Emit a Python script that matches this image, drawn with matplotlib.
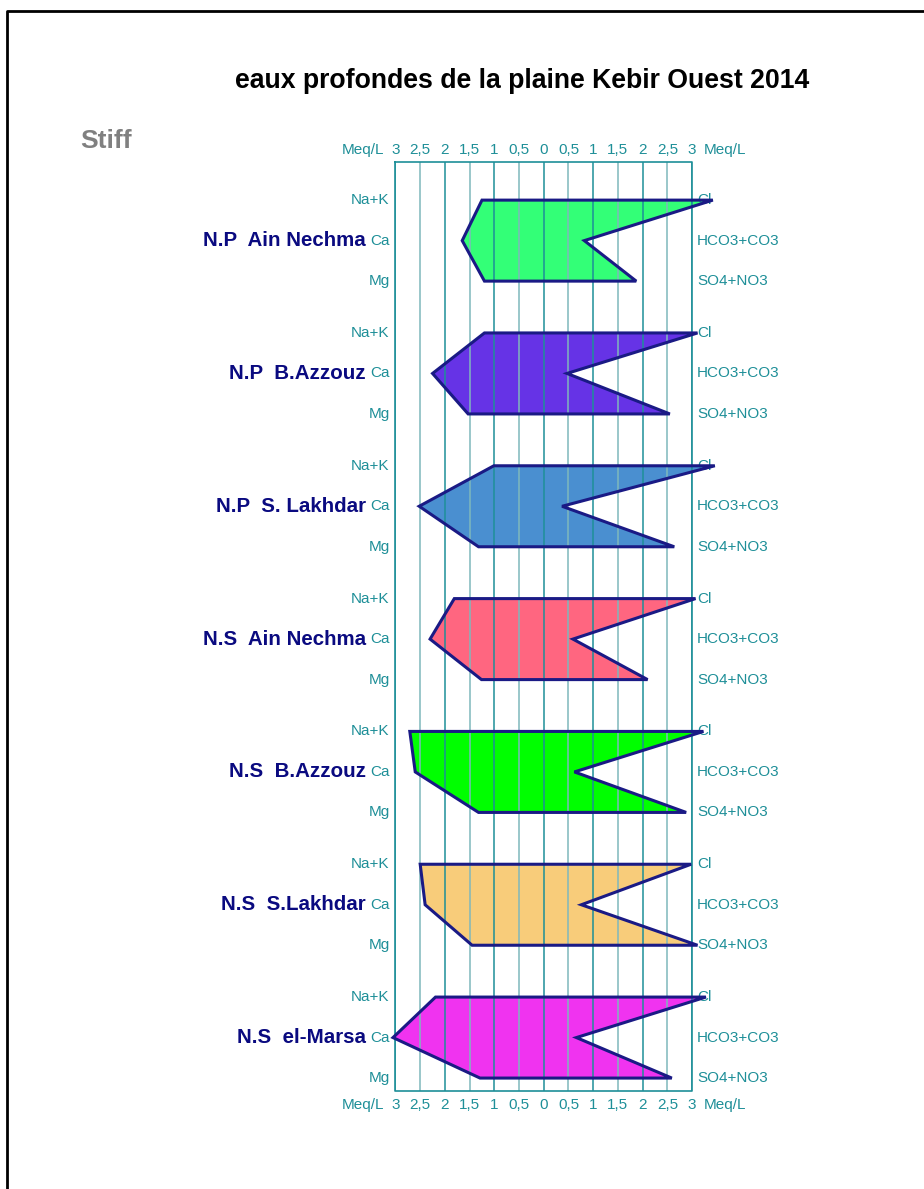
import matplotlib
matplotlib.use('Agg')
import matplotlib.pyplot as plt
from matplotlib.patches import Polygon
from matplotlib.lines import Line2D

plt.rcParams['font.family'] = ['Liberation Sans', 'DejaVu Sans']

title = 'eaux profondes de la plaine Kebir Ouest 2014'
stations = ['N.P  Ain Nechma', 'N.P  B.Azzouz', 'N.P  S. Lakhdar', 'N.S  Ain Nechma',
            'N.S  B.Azzouz', 'N.S  S.Lakhdar', 'N.S  el-Marsa']
colors = ['#33ff77', '#6633e6', '#4a8fd0', '#ff6680', '#00ff00', '#f8cc7a', '#f033f0']

# cations (left side), meq/L
na_k = [1.25, 1.20, 1.01, 1.81, 2.71, 2.50, 2.19]
ca = [1.65, 2.25, 2.52, 2.30, 2.60, 2.40, 3.05]
mg = [1.20, 1.53, 1.32, 1.26, 1.32, 1.45, 1.29]
# anions (right side), meq/L
cl = [3.42, 3.11, 3.46, 3.07, 3.23, 2.98, 3.28]
hco3 = [0.82, 0.47, 0.37, 0.59, 0.62, 0.76, 0.66]
so4 = [1.87, 2.55, 2.64, 2.10, 2.88, 3.11, 2.59]

left_labels = ['Na+K', 'Ca', 'Mg']
right_labels = ['Cl', 'HCO3+CO3', 'SO4+NO3']
ticks = [-3, -2.5, -2, -1.5, -1, -0.5, 0, 0.5, 1, 1.5, 2, 2.5, 3]

teal = '#1e8f98'
navy = '#1a1a85'
step = 3.28
fs = 11

fig = plt.figure(figsize=(9.24, 11.89), dpi=100)
ax = fig.add_axes([0.428, 0.0824, 0.321, 0.7813])
ax.set_xlim(-3, 3)
ax.set_ylim(6 * step + 2.32, -0.94)
ax.axis('off')

# grid
for t in ticks:
    c = teal if float(t).is_integer() else '#7fb8bc'
    ax.axvline(t, color=c, lw=1.1, zorder=3)
ax.plot([-3, 3, 3, -3, -3], [-0.94, -0.94, 6 * step + 2.32, 6 * step + 2.32, -0.94],
        color=teal, lw=1.2, zorder=3, clip_on=False)

for i in range(len(stations)):
    y0 = i * step
    pts = [(-na_k[i], y0), (-ca[i], y0 + 1), (-mg[i], y0 + 2),
           (so4[i], y0 + 2), (hco3[i], y0 + 1), (cl[i], y0)]
    ax.add_patch(Polygon(pts, closed=True, facecolor=colors[i], edgecolor='none',
                         zorder=2, clip_on=False))
    ax.add_patch(Polygon(pts, closed=True, facecolor='none', edgecolor=navy,
                         lw=2.2, zorder=4, clip_on=False, joinstyle='miter'))
    for j in range(3):
        ax.text(-3.12, y0 + j, left_labels[j], ha='right', va='center',
                fontsize=fs, color=teal)
        ax.text(3.1, y0 + j, right_labels[j], ha='left', va='center',
                fontsize=fs, color=teal)
    ax.text(-3.6, y0 + 1, stations[i], ha='right', va='center', fontsize=14.8,
            fontweight='bold', color='#0a0a80')

# scale labels top and bottom
for ypos in [1.013, -0.015]:
    for t in ticks:
        s = ('%g' % abs(t)).replace('.', ',')
        ax.text(t, ypos, s, transform=ax.get_xaxis_transform(), ha='center',
                va='center', fontsize=fs, color=teal)
    ax.text(-3.22, ypos, 'Meq/L', transform=ax.get_xaxis_transform(), ha='right',
            va='center', fontsize=fs, color=teal)
    ax.text(3.23, ypos, 'Meq/L', transform=ax.get_xaxis_transform(), ha='left',
            va='center', fontsize=fs, color=teal)

fig.text(0.565, 0.932, title, ha='center', va='center', fontsize=19.2, fontweight='bold')
fig.text(0.087, 0.881, 'Stiff', ha='left', va='center', fontsize=19, fontweight='bold',
         color='#808080')

# page border (top and left visible)
fig.add_artist(Line2D([0.0075, 0.0075, 1.0], [0.0, 0.9905, 0.9905],
                      transform=fig.transFigure, color='black', lw=2))

fig.savefig('out.png', dpi=100)
